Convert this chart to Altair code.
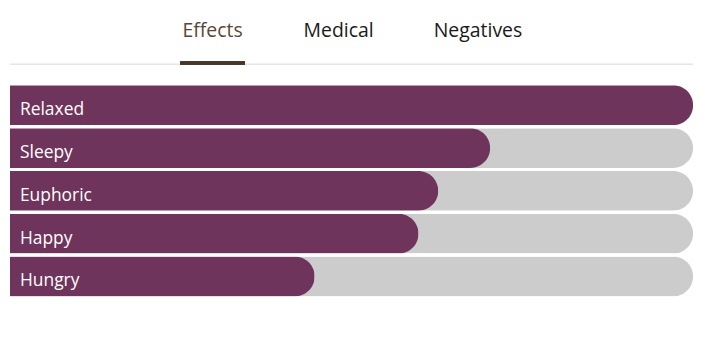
import altair as alt
import pandas as pd

categories = ["Relaxed", "Sleepy", "Euphoric", "Happy", "Hungry"]
values = [100, 70.3, 62.7, 59.8, 44.6]
full = [100, 100, 100, 100, 100]
tabs = ["Effects", "Medical", "Negatives"]

df = pd.DataFrame({"effect": categories, "value": values, "full": full})

PURPLE = "#6f345b"
GRAY = "#cccccc"
FONT = "Open Sans"

W = 686
y_enc = alt.Y("effect:N", sort=categories, axis=None,
              scale=alt.Scale(paddingInner=0.07, paddingOuter=0))
x_scale = alt.Scale(domain=[0, 100], nice=False, zero=True)

base = alt.Chart(df)

bg = base.mark_bar(color=GRAY, cornerRadiusEnd=20).encode(
    x=alt.X("full:Q", scale=x_scale, axis=None), y=y_enc)
fg = base.mark_bar(color=PURPLE, cornerRadiusEnd=20).encode(
    x=alt.X("value:Q", scale=x_scale, axis=None), y=y_enc)
labels = base.mark_text(align="left", baseline="middle", dx=0, dy=5,
                        color="white", font=FONT, fontSize=17.5).encode(
    x=alt.value(10), y=y_enc, text="effect:N")

hline = alt.Chart(df).mark_rule(color="#e6e6e6", strokeWidth=1).encode(
    x=alt.value(0), x2=alt.value(W), y=alt.value(-21))
underline = alt.Chart(df).mark_rule(color="#4b3526", strokeWidth=3).encode(
    x=alt.value(171), x2=alt.value(236), y=alt.value(-22.5))

tab_x = [203.5, 330, 470]
tab_colors = ["#5b4636", "#1a1a1a", "#1a1a1a"]
tab_layers = []
for name, tx, col in zip(tabs, tab_x, tab_colors):
    tab_layers.append(
        alt.Chart(pd.DataFrame({"t": [name]})).mark_text(
            align="center", baseline="alphabetic", font=FONT, fontSize=19.5,
            color=col).encode(x=alt.value(tx), y=alt.value(-49), text="t:N"))

chart = alt.layer(bg, fg, labels, hline, underline, *tab_layers).properties(
    width=W, height=212,
    padding={"left": 2, "top": 77, "right": 10, "bottom": 10},
    autosize=alt.AutoSizeParams(type="none"),
).configure_view(stroke=None)

chart.save("out.html", embed_options={"renderer": "svg", "actions": False})
